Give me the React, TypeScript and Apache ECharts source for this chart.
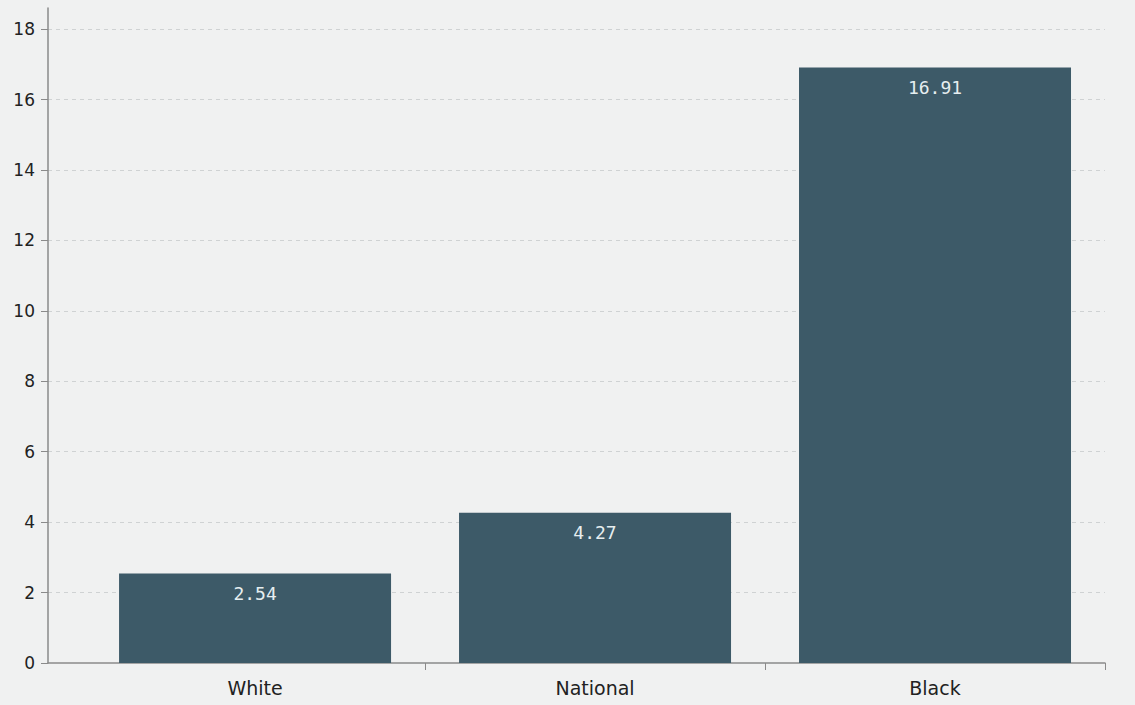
import React, { useEffect, useRef } from "react";
import * as echarts from "echarts";

const categories = ["White", "National", "Black"];
const values = [2.54, 4.27, 16.91];
const yTickValues = [0, 2, 4, 6, 8, 10, 12, 14, 16, 18];
const categoryPositions = [0, 1, 2];
const boundaryPositions = [0.5, 1.5, 2.5];

export default function App() {
  const ref = useRef<HTMLDivElement>(null);
  useEffect(() => {
    document.body.style.margin = "0";
    const chart = echarts.init(ref.current!, null, { renderer: "svg" });
    chart.setOption({
      animation: false,
      backgroundColor: "#f0f1f1",
      textStyle: { fontFamily: "DejaVu Sans" },
      grid: { left: 48, right: 30, top: 8, bottom: 42 },
      xAxis: {
        type: "value",
        min: -0.609,
        max: 2.5,
        splitLine: { show: false },
        axisLine: { show: true, onZero: false, lineStyle: { color: "#8a8a8a", width: 1.5 } },
        axisTick: { show: true, length: 7, customValues: boundaryPositions, lineStyle: { color: "#8a8a8a" } },
        axisLabel: {
          color: "#222",
          fontSize: 19,
          margin: 15,
          customValues: categoryPositions,
          formatter: (v: number) => categories[Math.round(v)] ?? "",
        },
      },
      yAxis: {
        type: "value",
        min: 0,
        max: 18.6,
        interval: 2,
        axisLine: { show: true, onZero: false, lineStyle: { color: "#8a8a8a", width: 1.5 } },
        axisTick: { show: true, length: 7, customValues: yTickValues, lineStyle: { color: "#8a8a8a" } },
        axisLabel: { color: "#222", fontSize: 17, margin: 13, customValues: yTickValues },
        splitLine: { showMinLine: false, lineStyle: { color: "#cfd2d3", type: [4, 4] } },
      },
      series: [
        {
          type: "bar",
          data: values.map((v, i) => [categoryPositions[i], v]),
          barWidth: 272,
          itemStyle: { color: "#3d5a68" },
          label: {
            show: true,
            position: "insideTop",
            distance: 11,
            color: "#e6eef0",
            fontSize: 18,
            fontFamily: "DejaVu Sans Mono",
            formatter: (p: any) => p.value[1].toFixed(2),
          },
        },
      ],
    });
    return () => chart.dispose();
  }, []);
  return <div ref={ref} style={{ position: "fixed", left: 0, top: 0, width: 1135, height: 705 }} />;
}
